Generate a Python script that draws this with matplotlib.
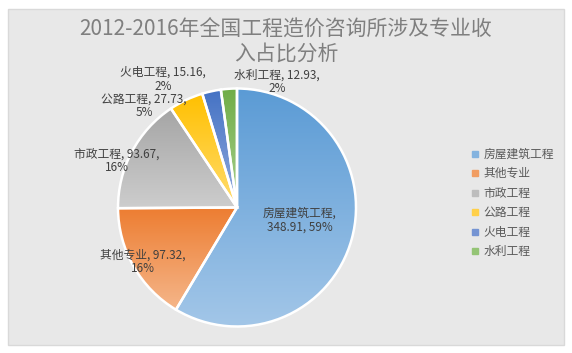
import matplotlib
matplotlib.use("Agg")
from matplotlib import pyplot as plt
from matplotlib.patches import Rectangle
from matplotlib.lines import Line2D
import numpy as np

plt.rcParams['font.family'] = ['Noto Sans CJK SC', 'DejaVu Sans']

# data
names = ["房屋建筑工程", "其他专业", "市政工程", "公路工程", "火电工程", "水利工程"]
values = [348.91, 97.32, 93.67, 27.73, 15.16, 12.93]
pcts = [59, 16, 16, 5, 2, 2]
title = "2012-2016年全国工程造价咨询所涉及专业收\n入占比分析"

# gradient colors (top, bottom) for each slice
grads = [("#5B9BD5", "#A2C6E8"), ("#ED7D31", "#F5B68A"), ("#A5A5A5", "#CDCDCD"),
         ("#FFC000", "#FFDC6E"), ("#4472C4", "#92ABDD"), ("#70AD47", "#A8D08E")]
legend_cols = ["#84B3DF", "#F19D62", "#BDBDBD", "#FFD04A", "#7594D3", "#94C475"]
# label centres in figure pixels (x, y from top)
label_pos = [(300, 220), (143, 262), (117, 161), (144, 106), (163, 79), (277, 82)]

W, H = 572, 353
fig = plt.figure(figsize=(W/100, H/100), dpi=100)

# background panel with diagonal stripes
fig.patches.append(Rectangle((8/W, 8/H), 556/W, 336/H, transform=fig.transFigure,
                             facecolor="white", edgecolor="#E8E8E8", hatch="\\"*20,
                             lw=0, zorder=-10))
fig.patches.append(Rectangle((8/W, 8/H), 556/W, 336/H, transform=fig.transFigure,
                             facecolor="none", edgecolor="#D9D9D9", lw=1, zorder=-9))

cx, cy, r = 237, 207.5, 119
ax = fig.add_axes([(cx-r)/W, (H-cy-r)/H, 2*r/W, 2*r/H])
ax.patch.set_visible(False)

wedges, _ = ax.pie(values, startangle=90, counterclock=False, radius=1,
                   wedgeprops=dict(facecolor="none", edgecolor="white", lw=1.8))

def hex2rgb(h):
    return np.array([int(h[i:i+2], 16) for i in (1, 3, 5)]) / 255.

for w, (c1, c2) in zip(wedges, grads):
    w.set_zorder(3)
    bb = w.get_path().get_extents()
    t = np.linspace(0, 1, 100)[:, None]
    img = (1-t)*hex2rgb(c1) + t*hex2rgb(c2)
    im = ax.imshow(img[:, None, :], extent=[bb.x0, bb.x1, bb.y0, bb.y1],
                   origin="upper", aspect="auto", zorder=2)
    im.set_clip_path(w)
ax.set_xlim(-1, 1)
ax.set_ylim(-1, 1)
ax.axis("off")

for i, (n, v, p) in enumerate(zip(names, values, pcts)):
    if i == 0:
        s = f"{n},\n{v:.2f}, {p}%"
    else:
        s = f"{n}, {v:.2f},\n{p}%"
    x, y = label_pos[i]
    fig.text(x/W, 1-y/H, s, ha="center", va="center", fontsize=8.5,
             color="#404040", linespacing=1.1)

fig.text(286/W, 1-42/H, title, ha="center", va="center", fontsize=15,
         color="#7F7F7F", fontweight="medium", linespacing=1.1)

handles = [Line2D([], [], marker="s", ls="none", ms=4.5, mfc=c, mec=c)
           for c in legend_cols]
fig.legend(handles, names, loc="center left", bbox_to_anchor=(466/W, 1-203/H),
           frameon=False, fontsize=8.5, labelcolor="#595959", handlelength=0.6,
           handletextpad=0.4, labelspacing=0.55, borderpad=0)

fig.savefig("out.png", dpi=100)
